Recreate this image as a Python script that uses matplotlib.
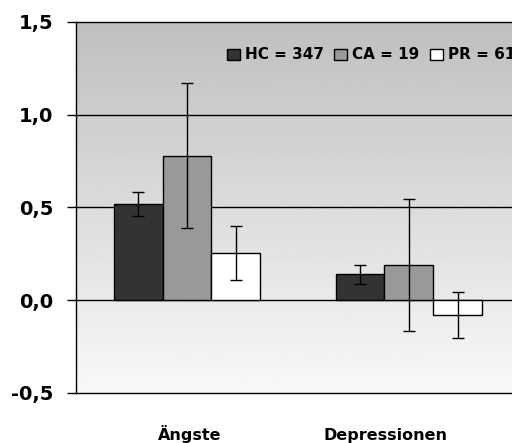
import matplotlib

matplotlib.use("Agg")
import matplotlib.pyplot as plt
import matplotlib.transforms as mtransforms
import numpy as np
from matplotlib.patches import Patch

plt.rcParams["font.family"] = ["DejaVu Sans"]
plt.rcParams["font.weight"] = "bold"

# --- data -------------------------------------------------------------------
categories = ["Ängste", "Depressionen"]
groups = ["HC = 347", "CA = 19", "PR = 61"]
means = {
    "HC = 347": [0.52, 0.14],
    "CA = 19": [0.78, 0.19],
    "PR = 61": [0.255, -0.08],
}
errors = {
    "HC = 347": [0.065, 0.052],
    "CA = 19": [0.39, 0.355],
    "PR = 61": [0.145, 0.125],
}
y_ticks = [-0.5, 0.0, 0.5, 1.0, 1.5]
y_ticklabels = ["-0,5", "0,0", "0,5", "1,0", "1,5"]

colors = ["#333333", "#999999", "#ffffff"]
bar_w = 0.22

fig = plt.figure(figsize=(5.12, 4.43), dpi=100)
ax = fig.add_axes([0.1484, 0.1129, 0.867, 0.8375])

# gradient background (grey at top fading to near white)
grad = np.linspace(0.975, 0.75, 256).reshape(-1, 1)
ax.imshow(grad, aspect="auto", cmap="gray", vmin=0, vmax=1,
          extent=[-0.5, 1.5, -0.5, 1.5], origin="lower", zorder=0)

x = np.arange(len(categories))
for i, g in enumerate(groups):
    ax.bar(x + (i - 1) * bar_w, means[g], width=bar_w, color=colors[i],
           edgecolor="black", linewidth=1.0, zorder=3)
    ax.errorbar(x + (i - 1) * bar_w, means[g], yerr=errors[g], fmt="none",
                ecolor="black", elinewidth=1.0, capsize=4.5, capthick=1.0,
                zorder=4)

ax.set_xlim(-0.5, 1.5)
ax.set_ylim(-0.5, 1.5)
ax.set_yticks(y_ticks)
ax.set_yticklabels(y_ticklabels, fontsize=14, fontweight="bold")
ax.tick_params(axis="y", direction="out", length=6.5, width=1, pad=10)
for yv in [0.0, 0.5, 1.0]:
    ax.axhline(yv, color="black", linewidth=1.0, zorder=2)

ax.set_xticks(x)
ax.set_xticklabels(categories, fontsize=11.5, fontweight="bold",
                   va="baseline")
ax.tick_params(axis="x", length=0, pad=34)
# Excel placed the labels slightly off their group centres
for lbl, dx in zip(ax.get_xticklabels(), [0.03, -0.23]):
    lbl.set_transform(lbl.get_transform() +
                      mtransforms.ScaledTranslation(dx, 0, fig.dpi_scale_trans))

for side in ["left", "top", "bottom"]:
    ax.spines[side].set_color("black")
    ax.spines[side].set_linewidth(1.0)
ax.spines["right"].set_visible(False)

handles = [Patch(facecolor=c, edgecolor="black", linewidth=1.0, label=g)
           for c, g in zip(colors, groups)]
fig.legend(handles=handles, loc="center left", bbox_to_anchor=(0.443, 0.876),
           ncol=3, frameon=False, handlelength=0.85, handleheight=0.75,
           handletextpad=0.35, columnspacing=0.65, borderaxespad=0,
           borderpad=0, prop={"size": 11, "weight": "bold"})

fig.savefig("out.png", dpi=100)
